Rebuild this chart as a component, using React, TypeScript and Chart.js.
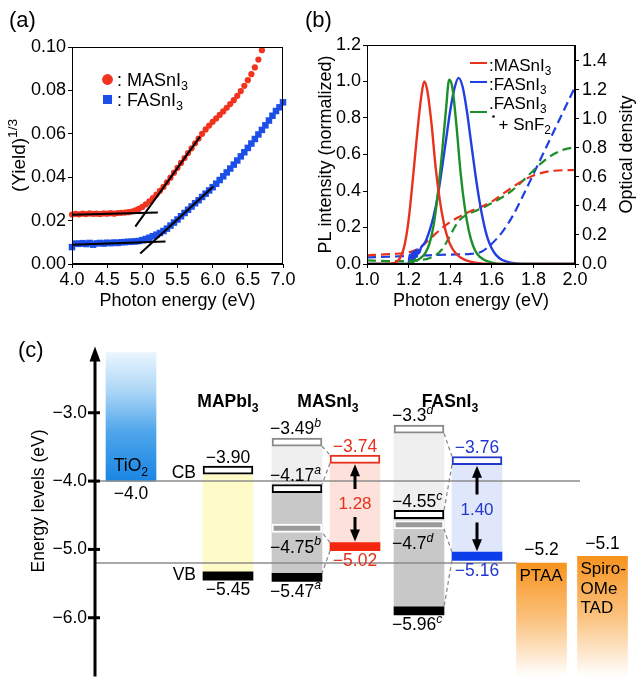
import React, { useEffect, useRef } from 'react';
import { Chart, registerables } from 'chart.js';

Chart.register(...registerables);

const FONT = '"Liberation Sans", Arial, Helvetica, sans-serif';
Chart.defaults.font.family = FONT;
Chart.defaults.color = '#000';

/* ================= (a) photoelectron yield ================= */
const YIELD_ENERGY = [
  4.00, 4.05, 4.10, 4.15, 4.20, 4.25, 4.30, 4.35, 4.40, 4.45,
  4.50, 4.55, 4.60, 4.65, 4.70, 4.75, 4.80, 4.85, 4.90, 4.95,
  5.00, 5.05, 5.10, 5.15, 5.20, 5.25, 5.30, 5.35, 5.40, 5.45,
  5.50, 5.55, 5.60, 5.65, 5.70, 5.75, 5.80, 5.85, 5.90, 5.95,
  6.00, 6.05, 6.10, 6.15, 6.20, 6.25, 6.30, 6.35, 6.40, 6.45,
  6.50, 6.55, 6.60, 6.65, 6.70, 6.75, 6.80, 6.85, 6.90, 6.95,
  7.00,
];
const YIELD_MASNI3 = [
  0.0228, 0.0231, 0.0229, 0.0232, 0.0230, 0.0233, 0.0231, 0.0232, 0.0230, 0.0233,
  0.0232, 0.0234, 0.0232, 0.0235, 0.0236, 0.0237, 0.0239, 0.0242, 0.0247, 0.0254,
  0.0263, 0.0275, 0.0289, 0.0304, 0.0320, 0.0337, 0.0355, 0.0376, 0.0398, 0.0421,
  0.0443, 0.0466, 0.0488, 0.0511, 0.0533, 0.0556, 0.0578, 0.0600, 0.0620, 0.0638,
  0.0655, 0.0671, 0.0687, 0.0703, 0.0720, 0.0737, 0.0755, 0.0775, 0.0797, 0.0821,
  0.0847, 0.0875, 0.0906, 0.0942, 0.0985,
];
const YIELD_FASNI3 = [
  0.0078, 0.0094, 0.0093, 0.0096, 0.0092, 0.0097, 0.0089, 0.0095, 0.0097, 0.0094,
  0.0098, 0.0096, 0.0099, 0.0097, 0.0100, 0.0101, 0.0102, 0.0103, 0.0104, 0.0106,
  0.0110, 0.0115, 0.0121, 0.0128, 0.0135, 0.0143, 0.0152, 0.0163, 0.0177, 0.0191,
  0.0205, 0.0220, 0.0235, 0.0250, 0.0265, 0.0280, 0.0294, 0.0309, 0.0324, 0.0339,
  0.0354, 0.0370, 0.0387, 0.0404, 0.0422, 0.0440, 0.0458, 0.0477, 0.0496, 0.0515,
  0.0535, 0.0555, 0.0576, 0.0597, 0.0618, 0.0639, 0.0661, 0.0683, 0.0705, 0.0722,
  0.0745,
];
const FIT_MASNI3_BASE = [[4.0, 0.0227], [5.22, 0.0237]];
const FIT_MASNI3_RISE = [[4.9, 0.0172], [5.82, 0.0587]];
const FIT_FASNI3_BASE = [[4.0, 0.0089], [5.33, 0.0104]];
const FIT_FASNI3_RISE = [[4.97, 0.0048], [6.01, 0.0357]];
const A_X_TICKS = [4.0, 4.5, 5.0, 5.5, 6.0, 6.5, 7.0];
const A_Y_TICKS = [0, 0.02, 0.04, 0.06, 0.08, 0.1];

/* ================= (b) PL and optical density ================= */
const PL_MASNI3_E = [1.00, 1.10, 1.12, 1.14, 1.16, 1.18, 1.20, 1.22, 1.24, 1.26, 1.275, 1.29, 1.31, 1.33, 1.35, 1.37, 1.39, 1.41, 1.43, 1.45, 1.48, 1.52, 1.56, 1.60, 2.00];
const PL_MASNI3 = [0, 0, 0.003, 0.01, 0.035, 0.10, 0.24, 0.46, 0.70, 0.91, 1.0, 0.95, 0.77, 0.53, 0.35, 0.22, 0.135, 0.085, 0.055, 0.035, 0.018, 0.007, 0.002, 0, 0];
const PL_FASNI3_E = [1.00, 1.20, 1.205, 1.21, 1.215, 1.22, 1.225, 1.23, 1.235, 1.24, 1.245, 1.25, 1.26, 1.28, 1.30, 1.32, 1.34, 1.36, 1.38, 1.40, 1.42, 1.44, 1.46, 1.48, 1.50, 1.52, 1.54, 1.56, 1.58, 1.60, 1.62, 1.65, 1.70, 1.75, 2.00];
const PL_FASNI3 = [0, 0, 0.05, 0.01, 0.06, 0.02, 0.07, 0.03, 0.075, 0.04, 0.08, 0.06, 0.09, 0.12, 0.18, 0.26, 0.37, 0.52, 0.68, 0.84, 0.96, 1.02, 0.97, 0.84, 0.67, 0.50, 0.35, 0.23, 0.14, 0.085, 0.05, 0.022, 0.006, 0, 0];
const PL_FASNI3_SNF2_E = [1.00, 1.20, 1.21, 1.22, 1.23, 1.24, 1.26, 1.28, 1.30, 1.32, 1.34, 1.36, 1.38, 1.395, 1.41, 1.43, 1.45, 1.47, 1.49, 1.51, 1.53, 1.56, 1.60, 1.65, 2.00];
const PL_FASNI3_SNF2 = [0, 0, 0.02, 0.005, 0.025, 0.02, 0.035, 0.06, 0.11, 0.21, 0.38, 0.60, 0.85, 1.01, 0.97, 0.76, 0.50, 0.31, 0.18, 0.10, 0.055, 0.025, 0.008, 0, 0];
const OD_MASNI3_E = [1.0, 1.1, 1.2, 1.25, 1.3, 1.35, 1.4, 1.45, 1.5, 1.55, 1.6, 1.65, 1.7, 1.75, 1.8, 1.85, 1.9, 1.95, 2.0];
const OD_MASNI3 = [0.06, 0.068, 0.08, 0.11, 0.17, 0.235, 0.29, 0.33, 0.365, 0.395, 0.43, 0.48, 0.53, 0.575, 0.61, 0.632, 0.643, 0.647, 0.648];
const OD_FASNI3_E = [1.0, 1.1, 1.2, 1.3, 1.4, 1.5, 1.55, 1.6, 1.65, 1.7, 1.75, 1.8, 1.85, 1.9, 1.95, 2.0];
const OD_FASNI3 = [0.045, 0.05, 0.055, 0.06, 0.065, 0.07, 0.085, 0.14, 0.22, 0.33, 0.47, 0.62, 0.77, 0.92, 1.07, 1.22];
const OD_FASNI3_SNF2_E = [1.0, 1.1, 1.2, 1.25, 1.3, 1.33, 1.36, 1.39, 1.42, 1.45, 1.48, 1.52, 1.56, 1.6, 1.65, 1.7, 1.75, 1.8, 1.85, 1.9, 1.95, 2.0];
const OD_FASNI3_SNF2 = [0.025, 0.02, 0.02, 0.025, 0.04, 0.06, 0.10, 0.17, 0.25, 0.31, 0.34, 0.365, 0.39, 0.42, 0.46, 0.51, 0.575, 0.645, 0.71, 0.76, 0.79, 0.805];
const B_X_TICKS = [1.0, 1.2, 1.4, 1.6, 1.8, 2.0];
const B_PL_TICKS = [0, 0.2, 0.4, 0.6, 0.8, 1.0, 1.2];
const B_OD_TICKS = [0, 0.2, 0.4, 0.6, 0.8, 1.0, 1.2, 1.4];

/* ================= (c) energy levels (eV) ================= */
const C_Y_TICKS = [-6, -5, -4, -3];
const TIO2_CB = -4.0;
const MAPBI3_LEVELS = [-3.90, -5.45]; // CB, VB
const MASNI3_LIT_CB = [-4.17, -3.49]; // refs a, b
const MASNI3_LIT_VB = [-5.47, -4.75];
const MASNI3_LIT_REF = ['a', 'b'];
const MASNI3_LEVELS = [-3.74, -5.02]; // this work
const FASNI3_LIT_CB = [-4.55, -3.3]; // refs c, d
const FASNI3_LIT_VB = [-5.96, -4.7];
const FASNI3_LIT_REF = ['c', 'd'];
const FASNI3_LEVELS = [-3.76, -5.16]; // this work
const HTM_HOMO = [-5.2, -5.1]; // PTAA, Spiro-OMeTAD
const HTM_LABEL_LINES = [['PTAA'], ['Spiro-', 'OMe', 'TAD']];

/* ---- layout / style for (c) ---- */
const C_Y_RANGE = [-6.86, -2.06];
const C_X_RANGE = [0, 547];
const COL = { tio2: 36, mapbi3: 133, masnLit: 202, masn: 260, fasnLit: 324, fasn: 382, ptaa: 446.5, spiro: 507.5 };
const COL_W = 50;
const LEVEL_T = 0.12;
const TIO2_FADE = 1.88;
const CB_LINE_END = 485;

const RED_A = '#f2331f';
const BLUE_A = '#1c4fe8';
const RED_B = '#e8321e';
const BLUE_B = '#1f3fe0';
const GREEN_B = '#1d8f2a';
const RED_C = '#e5311d';
const BLUE_C = '#2238cc';
const GRAY_LINE = '#8c8c8c';

/* ---------- rich text helper (sub/superscripts) ---------- */
type Seg = { t: string; k: 'n' | 'sub' | 'sup' };
function parseRich(s: string): Seg[] {
  const out: Seg[] = [];
  const re = /([_^])\{([^}]*)\}/g;
  let last = 0;
  let m: RegExpExecArray | null;
  while ((m = re.exec(s))) {
    if (m.index > last) out.push({ t: s.slice(last, m.index), k: 'n' });
    out.push({ t: m[2], k: m[1] === '_' ? 'sub' : 'sup' });
    last = re.lastIndex;
  }
  if (last < s.length) out.push({ t: s.slice(last), k: 'n' });
  return out;
}
type RichOpts = { size: number; color?: string; align?: 'left' | 'center' | 'right'; bold?: boolean; italicSup?: boolean; rotate?: number; subScale?: number };
function drawRich(ctx: CanvasRenderingContext2D, s: string, x: number, cy: number, o: RichOpts) {
  const segs = parseRich(s);
  const small = o.size * (o.subScale || 0.7);
  const w = o.bold ? 'bold ' : '';
  const font = (k: string) =>
    k === 'n' ? `${w}${o.size}px ${FONT}` : `${k === 'sup' && o.italicSup ? 'italic ' : ''}${w}${small}px ${FONT}`;
  const widths = segs.map((sg) => {
    ctx.font = font(sg.k);
    return ctx.measureText(sg.t).width;
  });
  const total = widths.reduce((a, b) => a + b, 0);
  ctx.save();
  ctx.translate(x, cy);
  if (o.rotate) ctx.rotate(o.rotate);
  ctx.fillStyle = o.color || '#000';
  ctx.textAlign = 'left';
  ctx.textBaseline = 'alphabetic';
  let px = o.align === 'center' ? -total / 2 : o.align === 'right' ? -total : 0;
  const base = o.size * 0.36;
  segs.forEach((sg, i) => {
    ctx.font = font(sg.k);
    const dy = sg.k === 'sub' ? o.size * 0.25 : sg.k === 'sup' ? -o.size * 0.42 : 0;
    ctx.fillText(sg.t, px, base + dy);
    px += widths[i];
  });
  ctx.restore();
}

function frame(chart: any) {
  const { ctx, chartArea: ca } = chart;
  ctx.save();
  ctx.strokeStyle = '#000';
  ctx.lineWidth = 1;
  ctx.strokeRect(Math.round(ca.left) + 0.5, Math.round(ca.top) + 0.5, Math.round(ca.right - ca.left) - 1, Math.round(ca.bottom - ca.top) - 1);
  ctx.restore();
}

function linAxis(ticksArr: number[], decimals: number, o: any) {
  return {
    type: 'linear',
    position: o.position,
    min: o.min,
    max: o.max,
    afterBuildTicks: (s: any) => {
      s.ticks = ticksArr.map((value) => ({ value }));
    },
    afterFit: o.afterFit,
    ticks: {
      callback: (v: any) => Number(v).toFixed(decimals),
      font: { family: FONT, size: 18 },
      color: '#000',
      padding: o.padding ?? 2,
      autoSkip: false,
      maxRotation: 0,
    },
    grid: { display: true, drawOnChartArea: false, drawTicks: true, tickLength: 4, color: '#000', lineWidth: 1 },
    border: { display: true, color: '#000', width: 1 },
    title: o.title || { display: false },
  };
}

const xTitle = {
  display: true,
  text: 'Photon energy (eV)',
  font: { family: FONT, size: 18 },
  color: '#000',
  padding: { top: 0, bottom: 8 },
};

/* ================= panel (a) ================= */
function makePanelA(canvas: HTMLCanvasElement) {
  const fit = (pts: number[][]) => ({
    type: 'line',
    data: pts.map(([x, y]) => ({ x, y })),
    borderColor: '#000',
    borderWidth: 2,
    pointRadius: 0,
    fill: false,
    showLine: true,
  });
  const plugin = {
    id: 'panelA',
    afterDatasetsDraw(chart: any) {
      const { ctx, chartArea: ca } = chart;
      frame(chart);
      drawRich(ctx, '(a)', 9, 19.5, { size: 22 });
      drawRich(ctx, '(Yield)^{1/3}', 18, (ca.top + ca.bottom) / 2, { size: 19, align: 'center', rotate: -Math.PI / 2, subScale: 0.72 });
      ctx.save();
      ctx.fillStyle = RED_A;
      ctx.beginPath();
      ctx.arc(107.5, 79.5, 5.4, 0, Math.PI * 2);
      ctx.fill();
      ctx.fillStyle = BLUE_A;
      ctx.fillRect(103, 95, 9, 9);
      ctx.restore();
      drawRich(ctx, ': MASnI_{3}', 117, 79.5, { size: 18 });
      drawRich(ctx, ': FASnI_{3}', 117, 99.5, { size: 18 });
    },
  };
  return new Chart(canvas, {
    type: 'scatter',
    data: {
      datasets: [
        fit(FIT_MASNI3_BASE),
        fit(FIT_MASNI3_RISE),
        fit(FIT_FASNI3_BASE),
        fit(FIT_FASNI3_RISE),
        {
          label: 'MASnI3',
          data: YIELD_MASNI3.map((y, i) => ({ x: YIELD_ENERGY[i], y })),
          pointStyle: 'circle',
          pointRadius: 3.1,
          backgroundColor: RED_A,
          borderColor: RED_A,
          borderWidth: 0,
          clip: false,
        },
        {
          label: 'FASnI3',
          data: YIELD_FASNI3.map((y, i) => ({ x: YIELD_ENERGY[i], y })),
          pointStyle: 'rect',
          pointRadius: 4.6,
          backgroundColor: BLUE_A,
          borderColor: BLUE_A,
          borderWidth: 0,
          clip: false,
        },
      ] as any,
    },
    options: {
      responsive: false,
      animation: false,
      devicePixelRatio: 1,
      events: [],
      layout: { padding: { left: 0, right: 37, top: 47, bottom: 0 } },
      plugins: { legend: { display: false }, tooltip: { enabled: false } },
      scales: {
        x: linAxis(A_X_TICKS, 1, { min: 4, max: 7, padding: 1, title: xTitle, afterFit: (s: any) => { s.height = 56; } }),
        y: linAxis(A_Y_TICKS, 2, { min: 0, max: 0.1, padding: 2, afterFit: (s: any) => { s.width = 72; } }),
      } as any,
    },
    plugins: [plugin],
  } as any);
}

/* ================= panel (b) ================= */
function makePanelB(canvas: HTMLCanvasElement) {
  const pl = (E: number[], V: number[], color: string) => ({
    type: 'line',
    data: V.map((y, i) => ({ x: E[i], y })),
    borderColor: color,
    borderWidth: 2.4,
    pointRadius: 0,
    fill: false,
    cubicInterpolationMode: 'monotone',
    yAxisID: 'y',
  });
  const od = (E: number[], V: number[], color: string) => ({ ...pl(E, V, color), yAxisID: 'y1', borderWidth: 2.2, borderDash: [9, 5] });
  const plugin = {
    id: 'panelB',
    afterDatasetsDraw(chart: any) {
      const { ctx, chartArea: ca } = chart;
      frame(chart);
      const mid = (ca.top + ca.bottom) / 2;
      drawRich(ctx, '(b)', 5, 19.5, { size: 22 });
      drawRich(ctx, 'PL intensity (normalized)', 25, mid, { size: 18, align: 'center', rotate: -Math.PI / 2 });
      drawRich(ctx, 'Optical density', 326, mid, { size: 18, align: 'center', rotate: -Math.PI / 2 });
      const items = [
        { c: RED_B, y: 63 },
        { c: BLUE_B, y: 82 },
        { c: GREEN_B, y: 112 },
      ];
      ctx.save();
      ctx.lineWidth = 2;
      items.forEach((it) => {
        ctx.strokeStyle = it.c;
        ctx.beginPath();
        ctx.moveTo(170, it.y);
        ctx.lineTo(187, it.y);
        ctx.stroke();
      });
      ctx.fillStyle = '#000';
      ctx.beginPath();
      ctx.arc(193.5, 116.5, 1.3, 0, Math.PI * 2);
      ctx.fill();
      ctx.restore();
      drawRich(ctx, ':MASnI_{3}', 189, 65, { size: 17 });
      drawRich(ctx, ':FASnI_{3}', 189, 83.5, { size: 17 });
      drawRich(ctx, '.FASnI_{3}', 189, 102.5, { size: 17 });
      drawRich(ctx, '+ SnF_{2}', 198.5, 123.5, { size: 17 });
    },
  };
  return new Chart(canvas, {
    type: 'line',
    data: {
      datasets: [
        pl(PL_MASNI3_E, PL_MASNI3, RED_B),
        pl(PL_FASNI3_SNF2_E, PL_FASNI3_SNF2, GREEN_B),
        pl(PL_FASNI3_E, PL_FASNI3, BLUE_B),
        od(OD_MASNI3_E, OD_MASNI3, RED_B),
        od(OD_FASNI3_SNF2_E, OD_FASNI3_SNF2, GREEN_B),
        od(OD_FASNI3_E, OD_FASNI3, BLUE_B),
      ] as any,
    },
    options: {
      responsive: false,
      animation: false,
      devicePixelRatio: 1,
      events: [],
      layout: { padding: { left: 0, right: 0, top: 45, bottom: 0 } },
      plugins: { legend: { display: false }, tooltip: { enabled: false } },
      scales: {
        x: linAxis(B_X_TICKS, 1, { min: 1, max: 2, padding: 1, title: xTitle, afterFit: (s: any) => { s.height = 56; } }),
        y: linAxis(B_PL_TICKS, 1, { position: 'left', min: 0, max: 1.2, padding: 2, afterFit: (s: any) => { s.width = 67; } }),
        y1: linAxis(B_OD_TICKS, 1, { position: 'right', min: 0, max: 1.51, padding: 3, afterFit: (s: any) => { s.width = 67; } }),
      } as any,
    },
    plugins: [plugin],
  } as any);
}

/* ================= panel (c) ================= */
const fmt = (v: number, d: number) => '\u2212' + Math.abs(v).toFixed(d);

function makePanelC(canvas: HTMLCanvasElement) {
  const T = LEVEL_T;
  const half = COL_W / 2;
  const GRAY_LIGHT = '#efefef';
  const GRAY_MID = '#c8c8c8';
  const fills = [
    { x: COL.mapbi3, y: [MAPBI3_LEVELS[1] + T, MAPBI3_LEVELS[0]], c: '#fffbc8' },
    { x: COL.masnLit, y: [MASNI3_LIT_VB[1], MASNI3_LIT_CB[1]], c: GRAY_LIGHT },
    { x: COL.masnLit, y: [MASNI3_LIT_VB[0] + T, MASNI3_LIT_CB[0]], c: GRAY_MID },
    { x: COL.masn, y: [MASNI3_LEVELS[1] + T, MASNI3_LEVELS[0]], c: '#fde1db' },
    { x: COL.fasnLit, y: [FASNI3_LIT_VB[1], FASNI3_LIT_CB[1]], c: GRAY_LIGHT },
    { x: COL.fasnLit, y: [FASNI3_LIT_VB[0] + T, FASNI3_LIT_CB[0]], c: GRAY_MID },
    { x: COL.fasn, y: [FASNI3_LEVELS[1] + T, FASNI3_LEVELS[0]], c: '#e0e7fb' },
  ];
  const cbBoxes = [
    { x: COL.mapbi3, v: MAPBI3_LEVELS[0], c: '#000' },
    { x: COL.masnLit, v: MASNI3_LIT_CB[0], c: '#000' },
    { x: COL.masnLit, v: MASNI3_LIT_CB[1], c: '#8a8a8a' },
    { x: COL.masn, v: MASNI3_LEVELS[0], c: RED_C },
    { x: COL.fasnLit, v: FASNI3_LIT_CB[0], c: '#000' },
    { x: COL.fasnLit, v: FASNI3_LIT_CB[1], c: '#8a8a8a' },
    { x: COL.fasn, v: FASNI3_LEVELS[0], c: BLUE_C },
  ];
  const vbBars = [
    { x: COL.mapbi3, v: MAPBI3_LEVELS[1], c: '#000', b: 0 },
    { x: COL.masnLit, v: MASNI3_LIT_VB[0], c: '#000', b: 0 },
    { x: COL.masnLit, v: MASNI3_LIT_VB[1], c: '#9a9a9a', b: 2 },
    { x: COL.masn, v: MASNI3_LEVELS[1], c: '#f5270f', b: 0 },
    { x: COL.fasnLit, v: FASNI3_LIT_VB[0], c: '#000', b: 0 },
    { x: COL.fasnLit, v: FASNI3_LIT_VB[1], c: '#9a9a9a', b: 2 },
    { x: COL.fasn, v: FASNI3_LEVELS[1], c: '#0b3de8', b: 0 },
  ];
  const bar = (extra: any) => ({ type: 'bar', grouped: false, barThickness: COL_W, borderSkipped: false, borderWidth: 0, ...extra });

  const gradientFill = (kind: 'tio2' | 'htm') => (ctx: any) => {
    const chart = ctx.chart;
    if (!chart.chartArea || !ctx.raw) return kind === 'tio2' ? '#3d9be9' : '#f7931e';
    const ys = chart.scales.y;
    const top = ys.getPixelForValue(ctx.raw.y[1]);
    const bot = ys.getPixelForValue(ctx.raw.y[0]);
    const g = chart.ctx.createLinearGradient(0, top, 0, bot);
    if (kind === 'tio2') {
      g.addColorStop(0, '#eaf5fe');
      g.addColorStop(0.3, '#acd6f6');
      g.addColorStop(0.62, '#4ea5eb');
      g.addColorStop(1, '#1a86e2');
    } else {
      g.addColorStop(0, '#f7931e');
      g.addColorStop(0.5, '#fbc27f');
      g.addColorStop(1, '#ffffff');
    }
    return g;
  };

  const seg = (p: number[][], opts: any) => ({
    type: 'line',
    data: p.map(([x, y]) => ({ x, y })),
    pointRadius: 0,
    fill: false,
    tension: 0,
    ...opts,
  });
  const connectorSet = (litX: number, thisX: number, litCB: number[], litVB: number[], lv: number[]) => {
    const L = litX + half;
    const R = thisX - half;
    return [
      [[L, litCB[1]], [R, lv[0] + T]],
      [[R, lv[0]], [L, litCB[0] + T]],
      [[R, lv[1] + T], [L, litVB[1]]],
      [[R, lv[1]], [L, litVB[0] + T]],
    ];
  };
  const connectors = [
    ...connectorSet(COL.masnLit, COL.masn, MASNI3_LIT_CB, MASNI3_LIT_VB, MASNI3_LEVELS),
    ...connectorSet(COL.fasnLit, COL.fasn, FASNI3_LIT_CB, FASNI3_LIT_VB, FASNI3_LEVELS),
  ].map((p) => seg(p, { order: 2, borderColor: GRAY_LINE, borderWidth: 1.3, borderDash: [4, 3] }));

  const refLines = [
    seg([[C_X_RANGE[0], TIO2_CB], [CB_LINE_END, TIO2_CB]], { order: 4, borderColor: GRAY_LINE, borderWidth: 1.5 }),
    seg([[C_X_RANGE[0], HTM_HOMO[0]], [COL.ptaa - half, HTM_HOMO[0]]], { order: 4, borderColor: GRAY_LINE, borderWidth: 1.5 }),
  ];

  const plugin = {
    id: 'panelC',
    afterDatasetsDraw(chart: any) {
      const { ctx, chartArea: ca, scales } = chart;
      const xp = (v: number) => scales.x.getPixelForValue(v);
      const yp = (v: number) => scales.y.getPixelForValue(v);
      const S = 17.5;
      // energy axis with arrow
      ctx.save();
      ctx.fillStyle = '#000';
      ctx.strokeStyle = '#000';
      ctx.lineWidth = 3;
      const ax = ca.left;
      ctx.beginPath();
      ctx.moveTo(ax, ca.bottom);
      ctx.lineTo(ax, ca.top + 10);
      ctx.stroke();
      ctx.beginPath();
      ctx.moveTo(ax, ca.top - 2);
      ctx.lineTo(ax - 5.5, ca.top + 13);
      ctx.lineTo(ax + 5.5, ca.top + 13);
      ctx.closePath();
      ctx.fill();
      scales.y.ticks.forEach((t: any) => {
        const y = yp(t.value);
        ctx.beginPath();
        ctx.moveTo(ax - 7, y);
        ctx.lineTo(ax + 5, y);
        ctx.stroke();
      });
      ctx.restore();
      drawRich(ctx, '(c)', 18, 19.5, { size: 22 });
      drawRich(ctx, 'Energy levels (eV)', 37.5, 171, { size: S, align: 'center', rotate: -Math.PI / 2 });

      // band-gap arrows
      const arrow = (x: number, yTop: number, yBot: number, cy: number) => {
        const gap = 14;
        const hl = 12;
        const hw = 5;
        ctx.save();
        ctx.fillStyle = '#000';
        ctx.strokeStyle = '#000';
        ctx.lineWidth = 3;
        ctx.beginPath();
        ctx.moveTo(x, yTop + hl - 1);
        ctx.lineTo(x, cy - gap);
        ctx.moveTo(x, cy + gap);
        ctx.lineTo(x, yBot - hl + 1);
        ctx.stroke();
        ctx.beginPath();
        ctx.moveTo(x, yTop);
        ctx.lineTo(x - hw, yTop + hl);
        ctx.lineTo(x + hw, yTop + hl);
        ctx.closePath();
        ctx.fill();
        ctx.beginPath();
        ctx.moveTo(x, yBot);
        ctx.lineTo(x - hw, yBot - hl);
        ctx.lineTo(x + hw, yBot - hl);
        ctx.closePath();
        ctx.fill();
        ctx.restore();
      };
      const gapLabel = (col: number, lv: number[], color: string) => {
        const x = xp(col);
        const yTop = yp(lv[0]) + 1;
        const yBot = yp(lv[1] + T) - 1;
        const cy = (yTop + yBot) / 2;
        arrow(x, yTop, yBot, cy);
        drawRich(ctx, (lv[0] - lv[1]).toFixed(2), x, cy, { size: 17, align: 'center', color });
      };
      gapLabel(COL.masn, MASNI3_LEVELS, RED_C);
      gapLabel(COL.fasn, FASNI3_LEVELS, BLUE_C);

      // titles
      drawRich(ctx, 'MAPbI_{3}', xp(COL.mapbi3), 71, { size: S, bold: true, align: 'center' });
      drawRich(ctx, 'MASnI_{3}', (xp(COL.masnLit) + xp(COL.masn)) / 2 + 2, 71, { size: S, bold: true, align: 'center' });
      drawRich(ctx, 'FASnI_{3}', (xp(COL.fasnLit) + xp(COL.fasn)) / 2 + 2, 71, { size: S, bold: true, align: 'center' });

      const above = (v: number) => yp(v) - 17.5;
      const below = (v: number) => yp(v) + 9;
      // TiO2
      drawRich(ctx, 'TiO_{2}', xp(COL.tio2), yp(TIO2_CB) - 16, { size: S, align: 'center' });
      drawRich(ctx, fmt(TIO2_CB, 1), xp(COL.tio2), yp(TIO2_CB) + 12, { size: S, align: 'center' });
      // MAPbI3
      drawRich(ctx, fmt(MAPBI3_LEVELS[0], 2), xp(COL.mapbi3), above(MAPBI3_LEVELS[0]), { size: S, align: 'center' });
      drawRich(ctx, fmt(MAPBI3_LEVELS[1], 2), xp(COL.mapbi3), below(MAPBI3_LEVELS[1]), { size: S, align: 'center' });
      drawRich(ctx, 'CB', xp(COL.mapbi3) - half - 7, yp(MAPBI3_LEVELS[0] + T / 2) + 2, { size: S, align: 'right' });
      drawRich(ctx, 'VB', xp(COL.mapbi3) - half - 7, yp(MAPBI3_LEVELS[1] + T / 2) - 2, { size: S, align: 'right' });
      // literature columns
      const litLabels = (col: number, cb: number[], vb: number[], refs: string[], dec: number[]) => {
        const lx = xp(col) - half - 2;
        const o = { size: S, italicSup: true };
        drawRich(ctx, `${fmt(cb[1], dec[1])}^{${refs[1]}}`, lx, above(cb[1]) - 1, o);
        drawRich(ctx, `${fmt(cb[0], dec[0])}^{${refs[0]}}`, lx, above(cb[0]), o);
        drawRich(ctx, `${fmt(vb[1], dec[1])}^{${refs[1]}}`, lx, below(vb[1]) + 5, o);
        drawRich(ctx, `${fmt(vb[0], dec[0])}^{${refs[0]}}`, lx, below(vb[0]), o);
      };
      litLabels(COL.masnLit, MASNI3_LIT_CB, MASNI3_LIT_VB, MASNI3_LIT_REF, [2, 2]);
      litLabels(COL.fasnLit, FASNI3_LIT_CB, FASNI3_LIT_VB, FASNI3_LIT_REF, [2, 1]);
      // this work
      drawRich(ctx, fmt(MASNI3_LEVELS[0], 2), xp(COL.masn), above(MASNI3_LEVELS[0]), { size: S, align: 'center', color: RED_C });
      drawRich(ctx, fmt(MASNI3_LEVELS[1], 2), xp(COL.masn), below(MASNI3_LEVELS[1]), { size: S, align: 'center', color: RED_C });
      drawRich(ctx, fmt(FASNI3_LEVELS[0], 2), xp(COL.fasn), above(FASNI3_LEVELS[0]), { size: S, align: 'center', color: BLUE_C });
      drawRich(ctx, fmt(FASNI3_LEVELS[1], 2), xp(COL.fasn), below(FASNI3_LEVELS[1]), { size: S, align: 'center', color: BLUE_C });
      // hole transport materials
      [COL.ptaa, COL.spiro].forEach((col, i) => {
        drawRich(ctx, fmt(HTM_HOMO[i], 1), xp(col), yp(HTM_HOMO[i]) - 14, { size: S, align: 'center' });
        HTM_LABEL_LINES[i].forEach((line, j) => {
          drawRich(ctx, line, xp(col) - half + 3, yp(HTM_HOMO[i]) + 12 + j * 19.5, { size: 17 });
        });
      });
    },
  };

  return new Chart(canvas, {
    type: 'bar',
    data: {
      datasets: [
        bar({ order: 6, data: [{ x: COL.tio2, y: [TIO2_CB, TIO2_CB + TIO2_FADE] }], backgroundColor: gradientFill('tio2') }),
        bar({
          order: 6,
          data: [
            { x: COL.ptaa, y: [C_Y_RANGE[0], HTM_HOMO[0]] },
            { x: COL.spiro, y: [C_Y_RANGE[0], HTM_HOMO[1]] },
          ],
          backgroundColor: gradientFill('htm'),
        }),
        bar({ order: 5, data: fills.map((f) => ({ x: f.x, y: f.y })), backgroundColor: fills.map((f) => f.c) }),
        ...refLines,
        bar({
          order: 3,
          data: cbBoxes.map((b) => ({ x: b.x, y: [b.v, b.v + T] })),
          backgroundColor: '#ffffff',
          borderColor: cbBoxes.map((b) => b.c),
          borderWidth: 2,
        }),
        bar({
          order: 3,
          data: vbBars.map((b) => ({ x: b.x, y: [b.v, b.v + T] })),
          backgroundColor: vbBars.map((b) => b.c),
          borderColor: '#ffffff',
          borderWidth: vbBars.map((b) => b.b),
        }),
        ...connectors,
      ] as any,
    },
    options: {
      responsive: false,
      animation: false,
      devicePixelRatio: 1,
      events: [],
      layout: { padding: { left: 0, right: 0, top: 13, bottom: 5 } },
      plugins: { legend: { display: false }, tooltip: { enabled: false } },
      scales: {
        x: { type: 'linear', display: false, min: C_X_RANGE[0], max: C_X_RANGE[1], offset: false },
        y: {
          type: 'linear',
          position: 'left',
          min: C_Y_RANGE[0],
          max: C_Y_RANGE[1],
          afterBuildTicks: (s: any) => {
            s.ticks = C_Y_TICKS.map((value) => ({ value }));
          },
          afterFit: (s: any) => {
            s.width = 95;
          },
          ticks: {
            callback: (v: any) => fmt(Number(v), 1),
            font: { family: FONT, size: 17.5 },
            color: '#000',
            padding: 8,
            autoSkip: false,
          },
          grid: { display: false, drawTicks: false },
          border: { display: false },
        },
      } as any,
    },
    plugins: [plugin],
  } as any);
}

export default function App() {
  const refA = useRef<HTMLCanvasElement>(null);
  const refB = useRef<HTMLCanvasElement>(null);
  const refC = useRef<HTMLCanvasElement>(null);
  useEffect(() => {
    const charts = [makePanelA(refA.current!), makePanelB(refB.current!), makePanelC(refC.current!)];
    return () => charts.forEach((c) => c.destroy());
  }, []);
  const abs = (l: number, t: number) => ({ position: 'absolute' as const, left: l, top: t });
  return (
    <div style={{ position: 'absolute', left: 0, top: 0, width: 642, height: 695, background: '#fff', overflow: 'hidden' }}>
      <canvas ref={refA} width={320} height={320} style={abs(0, 0)} />
      <canvas ref={refB} width={342} height={320} style={abs(300, 0)} />
      <canvas ref={refC} width={642} height={365} style={abs(0, 330)} />
    </div>
  );
}
